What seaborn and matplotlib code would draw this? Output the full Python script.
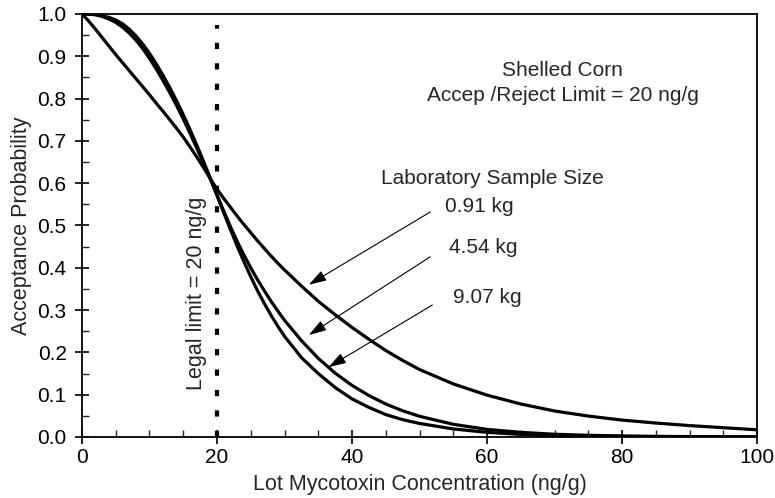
import numpy as np
import pandas as pd
import matplotlib
matplotlib.use("Agg")
import matplotlib.pyplot as plt
from matplotlib.ticker import MultipleLocator, FormatStrFormatter
import seaborn as sns

# ---- data ----
conc = [0, 1, 2, 3, 4, 5, 6, 7, 8, 9, 10, 11, 12, 13, 14, 15, 16, 17, 18, 19,
        20, 21, 22, 23, 24, 25, 26, 27, 28, 29, 30, 32.5, 35, 37.5, 40, 42.5,
        45, 47.5, 50, 55, 60, 65, 70, 75, 80, 85, 90, 95, 100]
p_091 = [1.000, .983, .964, .944, .924, .904, .885, .866, .847, .828, .809, .789,
         .770, .750, .730, .709, .686, .662, .637, .611, .586, .564, .543, .522,
         .502, .483, .464, .446, .428, .411, .395, .357, .321, .289, .259, .231,
         .2045, .181, .1595, .1255, .099, .078, .0615, .0495, .040, .033, .027,
         .022, .017]
p_454 = [1.000, .9995, .998, .994, .988, .980, .969, .955, .938, .918, .895, .870,
         .843, .814, .784, .752, .718, .683, .647, .610, .572, .534, .497, .462,
         .430, .400, .372, .346, .321, .298, .276, .228, .186, .151, .122, .098,
         .078, .062, .049, .030, .018, .011, .0065, .004, .0025, .0015, .001,
         .0006, .0004]
p_907 = [1.000, 1.000, .999, .996, .992, .986, .977, .964, .948, .929, .907, .882,
         .855, .826, .795, .762, .727, .690, .652, .612, .571, .530, .490, .451,
         .414, .379, .346, .316, .288, .262, .238, .188, .150, .117, .090, .070,
         .053, .041, .032, .019, .011, .006, .0035, .002, .001, .0006, .0003,
         .0001, 0.0]
sizes = ["0.91 kg", "4.54 kg", "9.07 kg"]
legal_limit = 20

df = pd.concat([
    pd.DataFrame({"conc": conc, "p": vals, "size": s})
    for s, vals in zip(sizes, [p_091, p_454, p_907])
])

sns.set_theme(style="ticks")
plt.rcParams["font.family"] = ["Liberation Sans", "DejaVu Sans"]

fig = plt.figure(figsize=(7.75, 4.98), dpi=100)
ax = fig.add_axes([0.1058, 0.1225, 0.871, 0.8494])

sns.lineplot(data=df, x="conc", y="p", units="size", estimator=None,
             color="black", linewidth=2.3, sort=False, ax=ax, legend=False)

ax.plot([legal_limit, legal_limit], [0, 0.975], color="black", linewidth=3,
        linestyle=(0, (1.5, 3.4)), dash_capstyle="butt")

ax.set_xlim(0, 100)
ax.set_ylim(0, 1.0)
ax.xaxis.set_major_locator(MultipleLocator(20))
ax.xaxis.set_minor_locator(MultipleLocator(5))
ax.yaxis.set_major_locator(MultipleLocator(0.1))
ax.yaxis.set_minor_locator(MultipleLocator(0.05))
ax.yaxis.set_major_formatter(FormatStrFormatter("%.1f"))
ax.tick_params(which="major", direction="inout", length=10, width=1.2,
               labelsize=15, colors="black")
ax.tick_params(axis="y", which="major", pad=6)
ax.tick_params(axis="x", which="major", pad=3)
ax.tick_params(which="minor", direction="in", length=5, width=1.0)
ax.tick_params(top=False, right=False, which="both")
for sp in ax.spines.values():
    sp.set_linewidth(1.3)
    sp.set_color("black")

ax.set_xlabel("Lot Mycotoxin Concentration (ng/g)", fontsize=15.5, labelpad=5)
ax.set_ylabel("Acceptance Probability", fontsize=15.5, labelpad=4)

fs = 15
ax.text(71.2, 0.866, "Shelled Corn", ha="center", va="center", fontsize=fs)
ax.text(71.2, 0.807, "Accep /Reject Limit = 20 ng/g", ha="center", va="center", fontsize=fs)
ax.text(60.8, 0.610, "Laboratory Sample Size", ha="center", va="center", fontsize=fs)
ax.text(58.8, 0.546, sizes[0], ha="center", va="center", fontsize=fs)
ax.text(59.4, 0.447, sizes[1], ha="center", va="center", fontsize=fs)
ax.text(60.1, 0.329, sizes[2], ha="center", va="center", fontsize=fs)
ax.text(16.9, 0.34, "Legal limit = 20 ng/g", rotation=90, ha="center",
        va="center", fontsize=15.5)

arrowprops = dict(arrowstyle="-|>,head_length=0.9,head_width=0.28",
                  color="black", lw=0.8, shrinkA=0, shrinkB=0)
ax.annotate("", xy=(33.6, 0.36), xytext=(51.6, 0.532), arrowprops=arrowprops)
ax.annotate("", xy=(33.6, 0.241), xytext=(51.6, 0.426), arrowprops=arrowprops)
ax.annotate("", xy=(36.5, 0.165), xytext=(51.9, 0.312), arrowprops=arrowprops)

fig.savefig("out.png", dpi=100)
